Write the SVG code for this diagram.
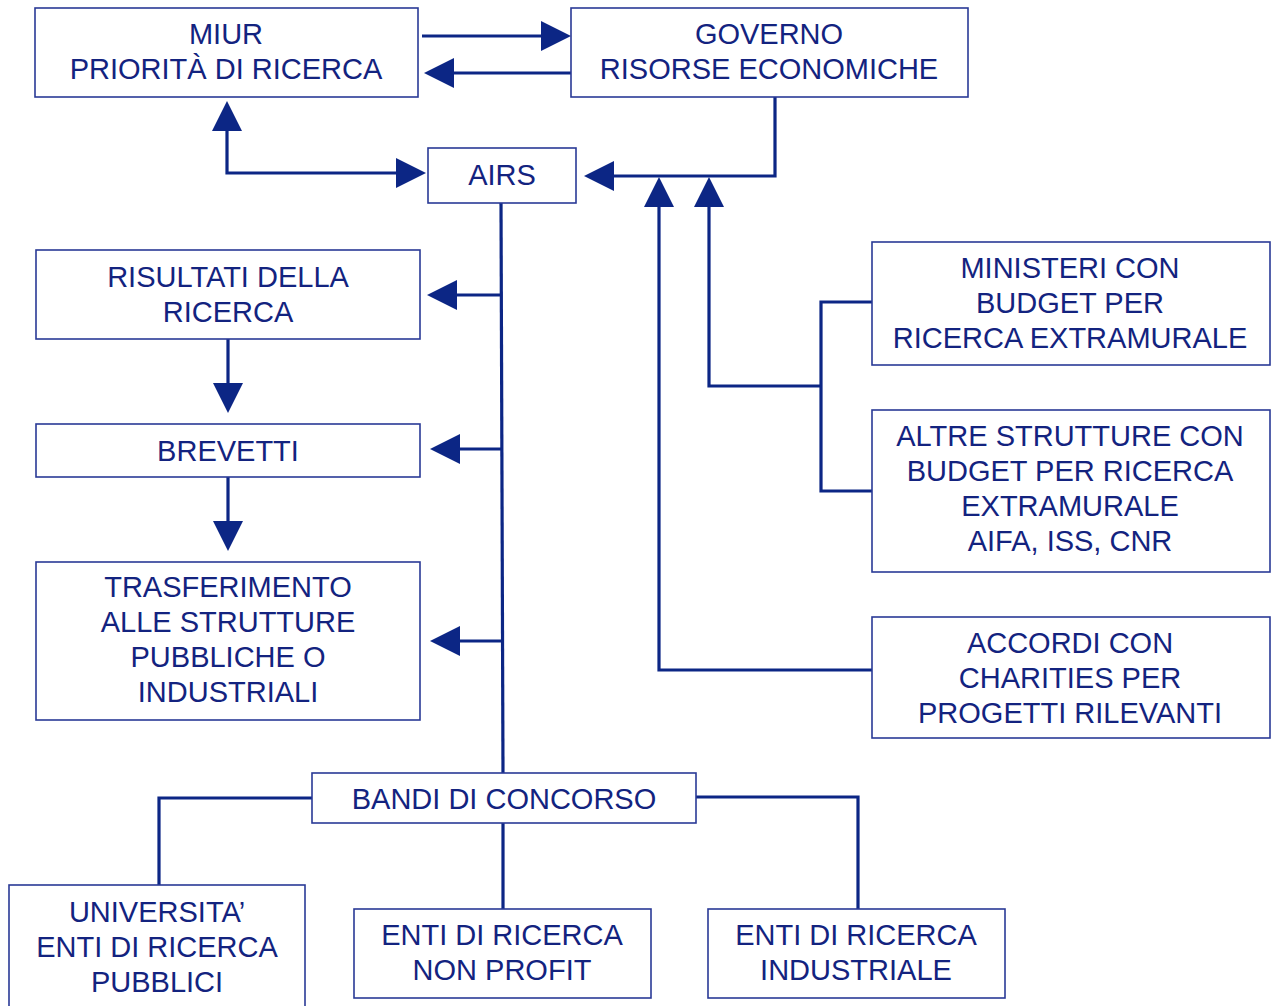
<svg xmlns="http://www.w3.org/2000/svg" width="1271" height="1006" viewBox="0 0 1271 1006">
<style>
.box{fill:#fff;stroke:#2a3a96;stroke-width:1.6}
.t{font-family:"Liberation Sans",Arial,sans-serif;font-size:29px;fill:#13237f;text-anchor:middle}
.ln{fill:none;stroke:#0c2685;stroke-width:3.2;stroke-linejoin:miter}
</style>
<defs>
<marker id="ah" markerUnits="userSpaceOnUse" markerWidth="30" markerHeight="32" refX="20" refY="15" orient="auto-start-reverse" viewBox="0 0 30 30">
<path d="M0,0 L30,15 L0,30 Z" fill="#0c2685"/>
</marker>
</defs>
<g id="connectors">
<path class="ln" d="M422,36 L561,36" marker-end="url(#ah)"/>
<path class="ln" d="M571,73 L434,73" marker-end="url(#ah)"/>
<path class="ln" d="M227,111 L227,173 L416,173" marker-start="url(#ah)" marker-end="url(#ah)"/>
<path class="ln" d="M775,97 L775,176 L594,176" marker-end="url(#ah)"/>
<path class="ln" d="M872,670 L659,670 L659,187" marker-end="url(#ah)"/>
<path class="ln" d="M821,386 L709,386 L709,187" marker-end="url(#ah)"/>
<path class="ln" d="M872,302 L821,302 L821,491 L872,491"/>
<path class="ln" d="M501,203 L503,773"/>
<path class="ln" d="M501,295 L437,295" marker-end="url(#ah)"/>
<path class="ln" d="M502,449 L440,449" marker-end="url(#ah)"/>
<path class="ln" d="M502,641 L440,641" marker-end="url(#ah)"/>
<path class="ln" d="M228,339 L228,403" marker-end="url(#ah)"/>
<path class="ln" d="M228,477 L228,541" marker-end="url(#ah)"/>
<path class="ln" d="M312,798 L159,798 L159,885"/>
<path class="ln" d="M503,823 L503,909"/>
<path class="ln" d="M696,797 L858,797 L858,909"/>
</g>
<g id="miur"><rect class="box" x="35" y="8" width="383" height="89"/>
<text class="t" x="226" y="44">MIUR</text><text class="t" x="226" y="79">PRIORITÀ DI RICERCA</text></g>
<g id="governo"><rect class="box" x="571" y="8" width="397" height="89"/>
<text class="t" x="769" y="44">GOVERNO</text><text class="t" x="769" y="79">RISORSE ECONOMICHE</text></g>
<g id="airs"><rect class="box" x="428" y="148" width="148" height="55"/>
<text class="t" x="502" y="185">AIRS</text></g>
<g id="risultati"><rect class="box" x="36" y="250" width="384" height="89"/>
<text class="t" x="228" y="287">RISULTATI DELLA</text><text class="t" x="228" y="322">RICERCA</text></g>
<g id="brevetti"><rect class="box" x="36" y="424" width="384" height="53"/>
<text class="t" x="228" y="461">BREVETTI</text></g>
<g id="trasferimento"><rect class="box" x="36" y="562" width="384" height="158"/>
<text class="t" x="228" y="597">TRASFERIMENTO</text><text class="t" x="228" y="632">ALLE STRUTTURE</text><text class="t" x="228" y="667">PUBBLICHE O</text><text class="t" x="228" y="702">INDUSTRIALI</text></g>
<g id="ministeri"><rect class="box" x="872" y="242" width="398" height="123"/>
<text class="t" x="1070" y="278">MINISTERI CON</text><text class="t" x="1070" y="313">BUDGET PER</text><text class="t" x="1070" y="348">RICERCA EXTRAMURALE</text></g>
<g id="altre"><rect class="box" x="872" y="410" width="398" height="162"/>
<text class="t" x="1070" y="446">ALTRE STRUTTURE CON</text><text class="t" x="1070" y="481">BUDGET PER RICERCA</text><text class="t" x="1070" y="516">EXTRAMURALE</text><text class="t" x="1070" y="551">AIFA, ISS, CNR</text></g>
<g id="accordi"><rect class="box" x="872" y="617" width="398" height="121"/>
<text class="t" x="1070" y="653">ACCORDI CON</text><text class="t" x="1070" y="688">CHARITIES PER</text><text class="t" x="1070" y="723">PROGETTI RILEVANTI</text></g>
<g id="bandi"><rect class="box" x="312" y="773" width="384" height="50"/>
<text class="t" x="504" y="809">BANDI DI CONCORSO</text></g>
<g id="universita"><rect class="box" x="9" y="885" width="296" height="125"/>
<text class="t" x="157" y="922">UNIVERSITA’</text><text class="t" x="157" y="957">ENTI DI RICERCA</text><text class="t" x="157" y="992">PUBBLICI</text></g>
<g id="nonprofit"><rect class="box" x="354" y="909" width="297" height="89"/>
<text class="t" x="502" y="945">ENTI DI RICERCA</text><text class="t" x="502" y="980">NON PROFIT</text></g>
<g id="industriale"><rect class="box" x="708" y="909" width="297" height="89"/>
<text class="t" x="856" y="945">ENTI DI RICERCA</text><text class="t" x="856" y="980">INDUSTRIALE</text></g>
</svg>
